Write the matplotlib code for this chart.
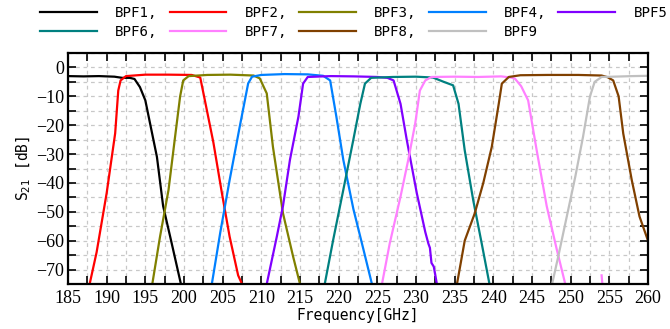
import numpy as np
import matplotlib
matplotlib.use("Agg")
import matplotlib.pyplot as plt
from matplotlib.ticker import MultipleLocator

names = ["BPF1", "BPF2", "BPF3", "BPF4", "BPF5", "BPF6", "BPF7", "BPF8", "BPF9"]
colors = ["#000000", "#ff0000", "#808000", "#0080ff", "#8000ff",
          "#008080", "#ff80ff", "#804000", "#c0c0c0"]

f1 = [185.0, 187.0, 189.0, 191.0, 192.0, 193.0, 193.6, 194.3, 195.0, 196.5, 197.3, 198.4, 199.6]
s1 = [-3.0, -3.1, -3.0, -3.2, -3.6, -3.6, -4.0, -6.8, -11.4, -31.0, -48.0, -60.8, -75.0]

f2 = [187.8, 188.7, 190.0, 191.1, 191.5, 191.8, 192.5, 195.0, 198.0, 201.0, 202.1, 202.7, 203.8, 204.9, 205.9, 207.0, 207.5]
s2 = [-75.0, -64.0, -43.5, -22.8, -8.0, -4.5, -3.0, -2.5, -2.5, -2.6, -3.5, -11.4, -26.0, -43.5, -58.6, -72.0, -75.0]

f3 = [195.9, 196.9, 198.0, 198.8, 199.5, 199.9, 200.6, 203.0, 206.0, 209.0, 209.8, 210.7, 211.5, 212.8, 214.1, 215.0]
s3 = [-75.0, -58.6, -42.4, -25.0, -10.0, -4.5, -3.0, -2.6, -2.5, -2.8, -3.8, -9.0, -27.5, -50.5, -65.4, -75.0]

f4 = [203.6, 204.7, 205.9, 207.2, 208.3, 208.8, 210.0, 213.0, 216.0, 218.0, 218.9, 219.7, 220.6, 221.9, 223.2, 224.3]
s4 = [-75.0, -57.0, -39.0, -20.6, -5.5, -3.2, -2.6, -2.3, -2.4, -2.9, -4.5, -17.0, -32.0, -49.0, -63.0, -75.0]

f5 = [210.7, 212.0, 212.8, 213.7, 214.8, 215.4, 216.0, 219.0, 222.0, 225.0, 226.3, 227.1, 228.0, 228.8, 230.1, 231.2, 231.6, 231.8, 232.0, 232.3, 232.7]
s5 = [-75.0, -58.6, -48.0, -32.0, -17.0, -5.6, -3.3, -3.0, -3.1, -3.3, -3.6, -4.5, -12.6, -25.0, -43.5, -57.0, -61.0, -62.5, -67.7, -69.0, -75.0]

f6 = [218.2, 219.3, 220.6, 221.9, 222.8, 223.4, 224.2, 227.0, 230.0, 232.2, 233.5, 234.8, 235.5, 236.3, 237.4, 238.5, 239.5]
s6 = [-75.0, -59.6, -42.4, -25.0, -12.6, -5.6, -3.6, -3.3, -3.2, -3.5, -4.9, -6.2, -12.6, -28.7, -46.0, -61.0, -75.0]

f7 = [225.6, 226.6, 228.0, 229.0, 229.9, 230.5, 231.2, 232.0, 235.0, 238.0, 241.0, 242.3, 242.8, 243.6, 244.5, 245.6, 246.9, 248.2, 249.3, 253.9, 254.0, 254.1]
s7 = [-75.0, -61.0, -44.7, -32.0, -19.4, -8.0, -4.5, -3.3, -3.2, -3.3, -3.1, -3.5, -3.9, -6.5, -11.4, -28.6, -48.0, -63.0, -75.0, np.nan, -72.0, -75.0]

f8 = [235.3, 236.3, 237.6, 238.7, 239.8, 240.7, 241.1, 242.0, 243.5, 247.0, 251.0, 254.0, 254.8, 255.5, 256.2, 256.8, 257.9, 258.9, 260.0]
s8 = [-75.0, -60.0, -50.5, -40.0, -27.5, -12.6, -5.6, -3.3, -2.7, -2.6, -2.6, -2.8, -3.4, -4.5, -10.0, -22.9, -39.0, -51.6, -60.0]

f9 = [247.6, 248.4, 249.5, 250.6, 251.6, 252.5, 253.1, 254.0, 255.5, 258.0, 260.0]
s9 = [-75.0, -65.4, -51.6, -37.8, -24.0, -10.0, -5.0, -3.3, -3.2, -3.0, -2.9]

freqs = [f1, f2, f3, f4, f5, f6, f7, f8, f9]
s21 = [s1, s2, s3, s4, s5, s6, s7, s8, s9]

fig = plt.figure(figsize=(6.70, 3.29), dpi=100)
ax = fig.add_axes([68 / 670, 1 - 284 / 329, 580 / 670, 231 / 329])

lines = []
for f, s, c, n in zip(freqs, s21, colors, names):
    ln, = ax.plot(f, s, color=c, lw=1.6, solid_joinstyle="round", clip_on=True)
    lines.append(ln)

ax.set_xlim(185, 260)
ax.set_ylim(-75, 5)
ax.xaxis.set_major_locator(MultipleLocator(5))
ax.xaxis.set_minor_locator(MultipleLocator(2.5))
ax.yaxis.set_major_locator(MultipleLocator(10))
ax.yaxis.set_minor_locator(MultipleLocator(5))
ax.tick_params(which="both", direction="in", top=True, right=True, length=5.5, width=1.2)
ax.grid(which="both", color="#c8c8c8", ls=(0, (3, 3)), lw=0.9)
ax.set_axisbelow(True)
for sp in ax.spines.values():
    sp.set_linewidth(1.6)

for lab in ax.get_xticklabels() + ax.get_yticklabels():
    lab.set_fontfamily("Liberation Serif")
    lab.set_fontsize(13)
ax.tick_params(axis="x", pad=4)
ax.tick_params(axis="y", pad=3)

ax.set_xlabel("Frequency[GHz]", fontfamily="DejaVu Sans Mono", fontsize=10.5, labelpad=1)
ax.set_ylabel("S$_{21}$ [dB]", fontfamily="DejaVu Sans Mono", fontsize=10.5, labelpad=2)

order = [0, 5, 1, 6, 2, 7, 3, 8, 4]
labels = [names[i] + ("," if i not in (4, 8) else "") for i in range(9)]
leg = fig.legend([lines[i] for i in order], [labels[i] for i in order],
                 ncol=5, loc="upper left", bbox_to_anchor=(40 / 670, 1 - 6 / 329),
                 frameon=False, handlelength=4.0, handletextpad=1.3,
                 columnspacing=0.85, labelspacing=0.35, borderpad=0, borderaxespad=0,
                 prop={"family": "DejaVu Sans Mono", "size": 10.2})

fig.savefig("out.png", dpi=100)
